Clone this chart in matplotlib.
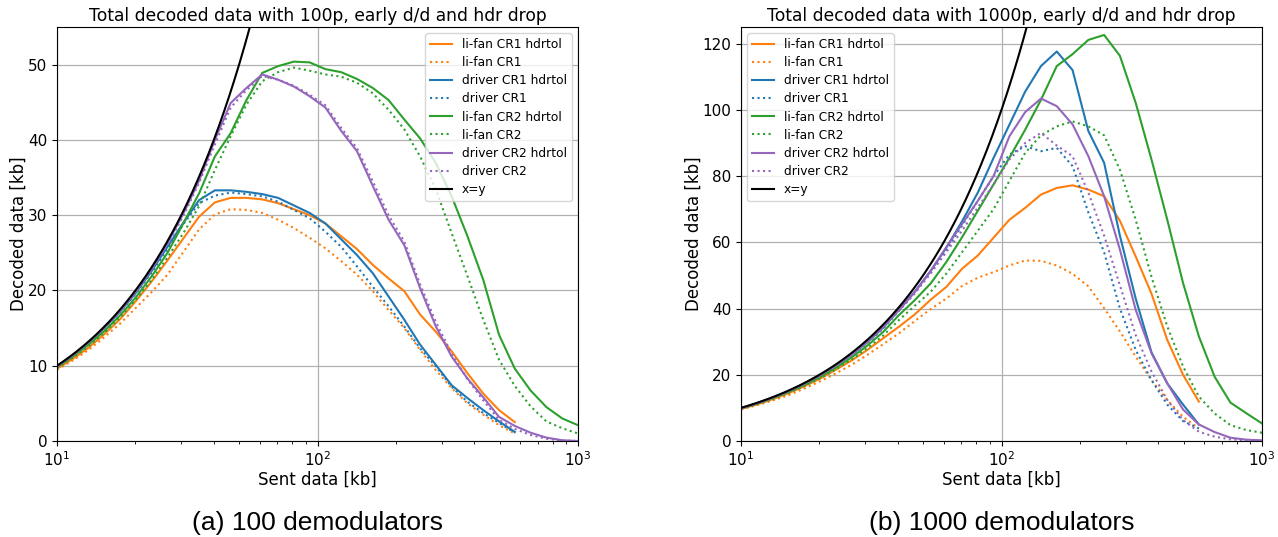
import matplotlib
matplotlib.use("Agg")
import matplotlib.pyplot as plt
import numpy as np

# Sent data grid [kb]
sent = [10.0, 11.5, 13.22, 15.2, 17.48, 20.09, 23.1, 26.56, 30.54, 35.11, 40.37,
        46.42, 53.37, 61.36, 70.55, 81.11, 93.26, 107.23, 123.29, 141.75, 162.98,
        187.38, 215.44, 247.71, 284.8, 327.45, 376.49, 432.88, 497.7, 572.24,
        657.93, 756.46, 869.75, 1000.0]

# ---- (a) 100 demodulators ----
a_lifan_cr1_h = [9.6, 10.9, 12.4, 14.2, 16.2, 18.6, 21.2, 24.0, 26.9, 29.8, 31.7, 32.3, 32.3,
                 32.1, 31.6, 30.8, 30.0, 28.9, 27.2, 25.5, 23.4, 21.6, 19.9, 16.8, 14.5, 11.9,
                 9.0, 6.3, 4.1, 2.5]
a_lifan_cr1 = [9.5, 10.7, 12.1, 13.8, 15.6, 17.7, 19.8, 22.1, 25.1, 28.1, 30.1, 30.8, 30.7,
               30.3, 29.4, 28.3, 27.0, 25.6, 23.9, 22.1, 19.9, 17.4, 15.0, 12.1, 9.4, 7.0,
               5.0, 3.5, 2.1, 1.0]
a_driver_cr1_h = [9.9, 11.4, 13.0, 15.0, 17.2, 19.7, 22.6, 25.8, 29.0, 32.0, 33.3, 33.3, 33.1,
                  32.8, 32.3, 31.3, 30.3, 28.9, 26.8, 24.7, 22.3, 19.2, 16.1, 12.8, 10.1, 7.4,
                  5.7, 4.1, 2.6, 1.2]
a_driver_cr1 = [9.8, 11.3, 13.0, 14.9, 17.1, 19.6, 22.4, 25.5, 28.8, 31.6, 32.6, 33.0, 32.8,
                32.5, 31.8, 30.7, 29.6, 27.8, 25.8, 23.2, 20.5, 17.9, 15.2, 12.3, 9.9, 7.2,
                5.2, 3.7, 2.4, 1.1]
a_lifan_cr2_h = [9.8, 11.2, 12.8, 14.6, 16.7, 19.1, 21.9, 25.0, 28.9, 32.9, 37.8, 40.9, 45.3,
                 48.9, 49.8, 50.4, 50.3, 49.4, 49.0, 48.1, 46.9, 45.3, 42.7, 40.2, 36.9, 32.5,
                 27.2, 21.4, 14.1, 9.6, 6.7, 4.5, 3.0, 2.1]
a_lifan_cr2 = [9.7, 11.1, 12.6, 14.4, 16.4, 18.8, 21.4, 24.4, 27.6, 31.2, 36.0, 40.5, 44.7,
               47.8, 49.0, 49.6, 49.2, 48.7, 48.4, 47.6, 46.2, 44.0, 41.4, 37.8, 33.4, 27.6,
               21.9, 16.1, 10.8, 7.3, 4.6, 2.6, 1.7, 1.0]
a_driver_cr2_h = [9.9, 11.4, 13.1, 15.05, 17.3, 19.9, 22.9, 26.3, 30.2, 34.6, 40.0, 44.9, 46.9,
                  48.7, 48.0, 47.1, 45.8, 44.3, 41.2, 38.5, 33.9, 29.4, 26.0, 20.3, 15.2, 11.2,
                  8.3, 5.8, 3.2, 2.0, 1.1, 0.45, 0.1, 0.0]
a_driver_cr2 = [9.9, 11.4, 13.1, 15.0, 17.2, 19.8, 22.7, 26.1, 29.9, 34.3, 39.4, 44.3, 46.6,
                48.5, 48.0, 47.2, 46.0, 44.6, 41.6, 38.9, 34.5, 30.0, 26.5, 20.8, 15.8, 11.6,
                8.2, 5.4, 2.8, 1.6, 0.8, 0.3, 0.05, 0.0]

# ---- (b) 1000 demodulators ----
b_lifan_cr1_h = [9.7, 11.0, 12.6, 14.4, 16.5, 18.8, 21.5, 24.3, 27.5, 31.0, 34.5, 38.2, 42.6,
                 46.5, 52.0, 56.0, 61.4, 66.8, 70.4, 74.4, 76.4, 77.2, 75.9, 73.9, 66.5, 55.7,
                 44.5, 30.5, 20.0, 11.9]
b_lifan_cr1 = [9.5, 10.8, 12.2, 13.8, 15.8, 18.0, 20.4, 23.0, 26.0, 29.2, 32.5, 36.2, 39.8,
               43.0, 46.8, 49.3, 51.0, 53.0, 54.5, 54.4, 53.0, 50.5, 46.7, 40.1, 33.1, 25.5,
               18.4, 12.4, 7.3, 3.8]
b_driver_cr1_h = [9.9, 11.4, 13.1, 15.0, 17.3, 19.8, 22.7, 26.0, 29.8, 34.2, 39.5, 45.0, 51.3,
                  58.3, 66.3, 75.0, 85.5, 95.5, 105.5, 113.2, 117.6, 112.0, 93.6, 84.0, 62.0,
                  43.0, 26.8, 17.4, 11.0, 5.0]
b_driver_cr1 = [9.85, 11.35, 13.0, 14.95, 17.2, 19.7, 22.6, 25.8, 29.6, 33.9, 39.3, 44.8, 51.0,
                57.8, 65.0, 72.5, 80.0, 86.5, 89.0, 87.5, 88.5, 83.0, 69.0, 57.0, 40.0, 27.5,
                18.4, 11.0, 6.0, 3.8]
b_lifan_cr2_h = [9.8, 11.25, 12.9, 14.8, 16.9, 19.3, 22.1, 25.2, 28.8, 32.9, 38.0, 42.5, 47.5,
                 54.0, 61.5, 69.5, 77.5, 85.5, 94.0, 103.0, 113.2, 116.8, 121.1, 122.6, 116.3,
                 102.1, 85.0, 66.8, 47.7, 31.6, 19.4, 11.6, 8.4, 5.3]
b_lifan_cr2 = [9.75, 11.1, 12.7, 14.5, 16.6, 18.9, 21.6, 24.6, 28.0, 31.8, 36.5, 40.8, 45.0,
               50.5, 57.0, 63.5, 70.0, 78.5, 87.0, 92.3, 95.0, 96.5, 95.0, 92.3, 81.9, 66.8,
               49.6, 34.6, 22.5, 13.4, 8.3, 4.8, 3.3, 2.5]
b_driver_cr2_h = [9.9, 11.4, 13.1, 15.05, 17.3, 19.85, 22.8, 26.1, 30.0, 34.4, 39.6, 45.0, 51.2,
                  58.5, 65.5, 72.5, 80.0, 92.0, 99.3, 103.4, 101.1, 95.6, 86.0, 73.9, 57.8,
                  39.6, 26.5, 17.4, 9.5, 5.0, 2.7, 1.0, 0.4, 0.2]
b_driver_cr2 = [9.85, 11.35, 13.0, 15.0, 17.2, 19.75, 22.6, 25.9, 29.7, 34.1, 39.3, 44.5, 50.5,
                57.0, 63.5, 70.5, 77.5, 85.0, 90.0, 93.0, 89.2, 86.0, 75.0, 62.0, 47.0, 32.0,
                21.0, 12.4, 6.3, 2.8, 1.3, 0.5, 0.2, 0.1]

titles = ["Total decoded data with 100p, early d/d and hdr drop",
          "Total decoded data with 1000p, early d/d and hdr drop"]
captions = ["(a) 100 demodulators", "(b) 1000 demodulators"]
labels = ["li-fan CR1 hdrtol", "li-fan CR1", "driver CR1 hdrtol", "driver CR1",
          "li-fan CR2 hdrtol", "li-fan CR2", "driver CR2 hdrtol", "driver CR2"]
colors = ["#ff7f0e", "#ff7f0e", "#1f77b4", "#1f77b4", "#2ca02c", "#2ca02c", "#9467bd", "#9467bd"]
styles = ["-", ":", "-", ":", "-", ":", "-", ":"]

panels = [
    dict(series=[a_lifan_cr1_h, a_lifan_cr1, a_driver_cr1_h, a_driver_cr1,
                 a_lifan_cr2_h, a_lifan_cr2, a_driver_cr2_h, a_driver_cr2],
         ylim=(0, 55), yticks=[0, 10, 20, 30, 40, 50], loc="upper right"),
    dict(series=[b_lifan_cr1_h, b_lifan_cr1, b_driver_cr1_h, b_driver_cr1,
                 b_lifan_cr2_h, b_lifan_cr2, b_driver_cr2_h, b_driver_cr2],
         ylim=(0, 125), yticks=[0, 20, 40, 60, 80, 100, 120], loc="upper left"),
]

# reference x=y line (dense so it is drawn smooth)
xy_line = np.geomspace(10, 1000, 400)

W, H = 1278, 537
fig = plt.figure(figsize=(W / 100, H / 100), dpi=100)
axes_px = [(57, 578), (741, 1262)]
top_px, bot_px = 27, 441

for k, (p, (x0, x1)) in enumerate(zip(panels, axes_px)):
    ax = fig.add_axes([x0 / W, 1 - bot_px / H, (x1 - x0) / W, (bot_px - top_px) / H])
    for ys, lab, c, ls in zip(p["series"], labels, colors, styles):
        ax.plot(sent[:len(ys)], ys, color=c, linestyle=ls, linewidth=1.5, label=lab)
    ax.plot(xy_line, xy_line, color="black", linewidth=1.5, label="x=y")
    ax.set_xscale("log")
    ax.set_xlim(10, 1000)
    ax.set_ylim(*p["ylim"])
    ax.set_yticks(p["yticks"])
    ax.grid(True, which="major", color="#b0b0b0", linewidth=0.9)
    ax.tick_params(labelsize=11)
    ax.set_title(titles[k], fontsize=12.3, pad=4)
    ax.set_xlabel("Sent data [kb]", fontsize=12, labelpad=1)
    ax.set_ylabel("Decoded data [kb]", fontsize=12, labelpad=0)
    ax.legend(loc=p["loc"], fontsize=8.8, handlelength=1.8, labelspacing=0.42,
              borderpad=0.4, handletextpad=0.8)
    fig.text(((x0 + x1) / 2) / W, 1 - 523 / H, captions[k], ha="center", va="center",
             fontsize=19, family="Liberation Sans")

fig.savefig("out.png", dpi=100)
